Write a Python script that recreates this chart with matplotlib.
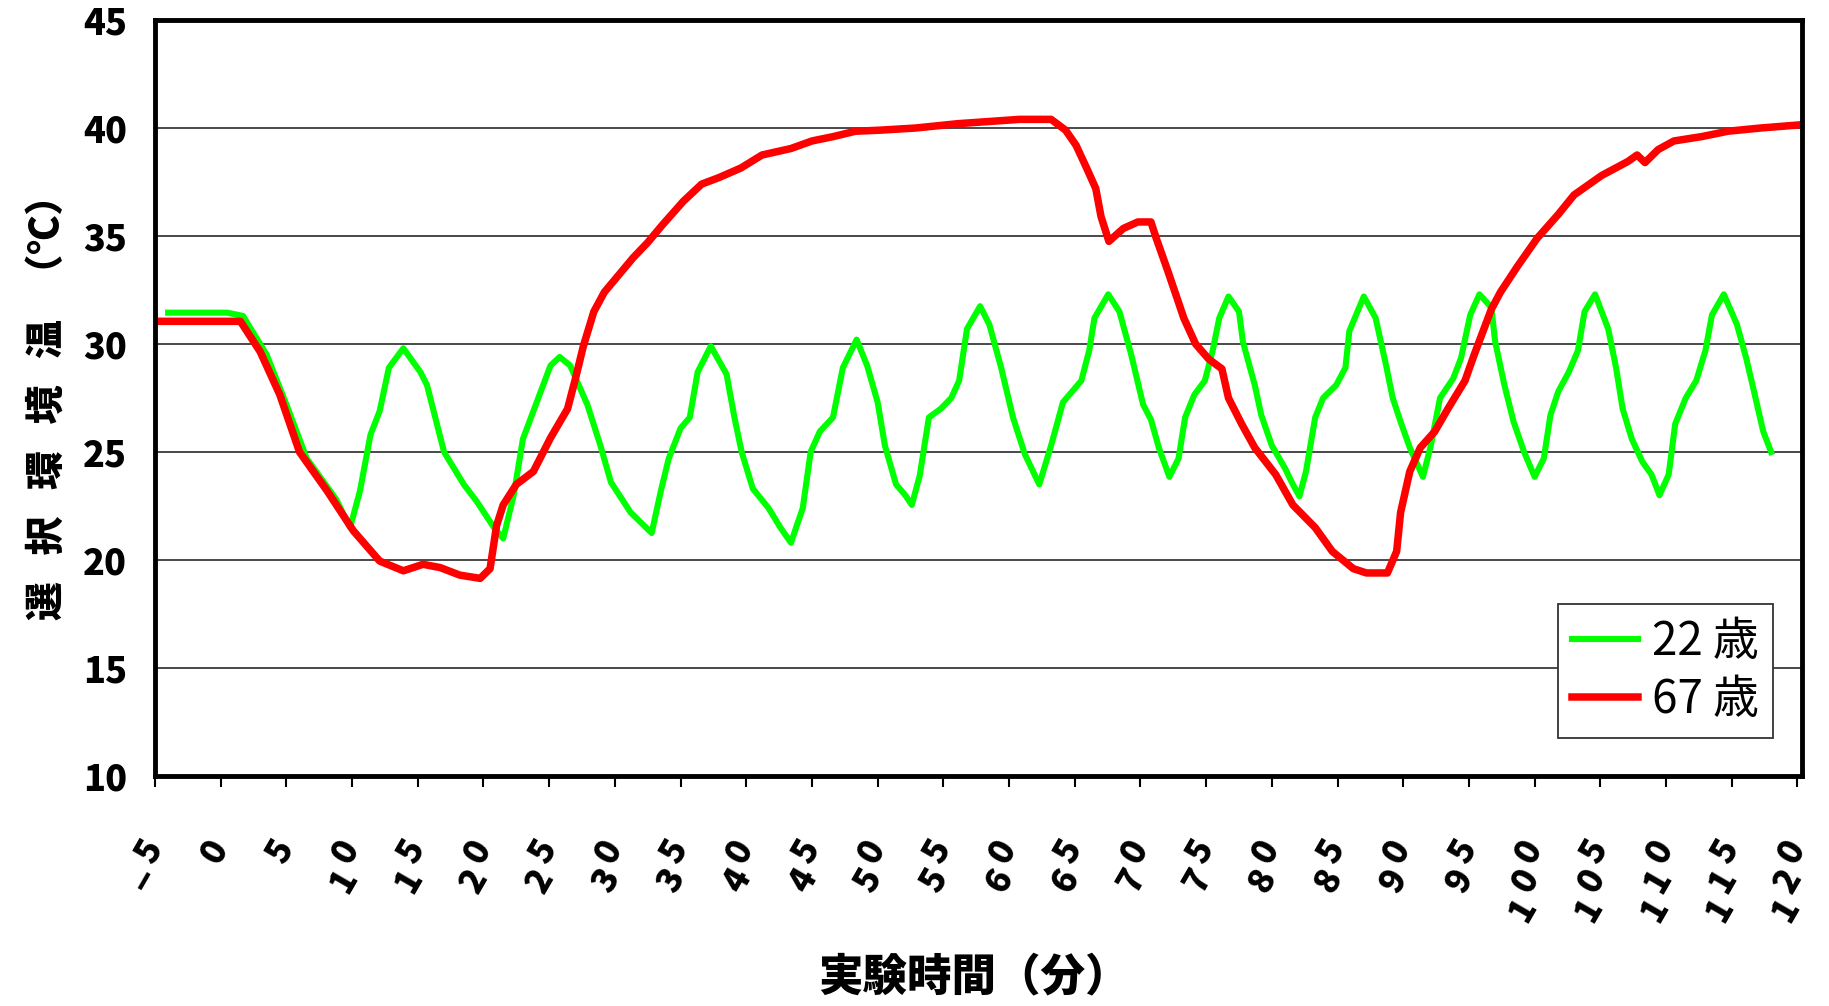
import matplotlib
matplotlib.use('Agg')
import matplotlib.pyplot as plt
from matplotlib.transforms import blended_transform_factory, offset_copy

plt.rcParams['font.family'] = ['Noto Sans CJK JP', 'DejaVu Sans']

# 22歳 (緑)
t22 = [-4.0, 0.5, 1.7, 3.5, 5.0, 6.55, 8.8, 9.85, 10.6, 11.4, 12.1, 12.8, 13.9,
       15.2, 15.7, 17.0, 18.5, 19.5, 20.8, 21.5, 22.3, 23.0, 23.8, 25.1, 25.8,
       26.6, 27.9, 28.9, 29.7, 31.2, 32.8, 33.5, 34.1, 35.0, 35.7, 36.3, 37.3,
       38.5, 39.1, 39.65, 40.5, 41.7, 42.6, 43.4, 44.3, 44.9, 45.6, 46.6, 47.35,
       48.4, 49.2, 50.0, 50.55, 51.4, 52.1, 52.6, 53.2, 53.9, 54.8, 55.6, 56.2,
       56.8, 57.8, 58.5, 59.4, 60.3, 61.2, 62.3, 63.2, 64.1, 65.5, 66.1, 66.5,
       67.55, 68.4, 69.3, 70.2, 70.8, 71.4, 72.2, 72.9, 73.4, 74.1, 74.9, 75.5,
       76.0, 76.7, 77.5, 77.8, 78.7, 79.2, 80.0, 81.0, 81.6, 82.1, 82.6, 83.3,
       83.9, 84.9, 85.6, 85.9, 87.0, 87.9, 88.7, 89.2, 89.8, 90.5, 91.5, 92.1,
       92.8, 93.8, 94.4, 95.1, 95.8, 96.7, 97.0, 97.7, 98.4, 99.2, 100.0, 100.7,
       101.2, 101.8, 102.6, 103.3, 103.8, 104.6, 105.6, 106.2, 106.7, 107.4,
       108.2, 108.9, 109.5, 110.2, 110.7, 111.5, 112.3, 113.0, 113.5, 114.4,
       115.4, 116.1, 116.7, 117.4, 118.0]
y22 = [31.45, 31.45, 31.3, 29.5, 27.2, 24.7, 22.8, 21.5, 23.2, 25.8, 26.9, 28.9, 29.8,
       28.7, 28.1, 25.0, 23.5, 22.7, 21.5, 21.0, 23.0, 25.6, 26.9, 29.0, 29.4,
       29.0, 27.2, 25.3, 23.6, 22.2, 21.25, 23.2, 24.7, 26.1, 26.6, 28.7, 29.9,
       28.6, 26.6, 25.0, 23.3, 22.4, 21.5, 20.8, 22.4, 25.0, 25.95, 26.6, 28.9,
       30.2, 29.0, 27.3, 25.3, 23.5, 23.0, 22.55, 23.9, 26.6, 27.0, 27.5, 28.3,
       30.7, 31.75, 30.9, 28.9, 26.6, 24.9, 23.5, 25.3, 27.3, 28.3, 29.7, 31.2,
       32.3, 31.5, 29.5, 27.2, 26.5, 25.2, 23.85, 24.7, 26.6, 27.65, 28.3, 29.7,
       31.2, 32.2, 31.5, 30.1, 28.1, 26.7, 25.3, 24.25, 23.5, 22.95, 24.1, 26.6,
       27.5, 28.1, 28.9, 30.6, 32.2, 31.2, 29.0, 27.5, 26.4, 25.2, 23.85, 25.3,
       27.5, 28.4, 29.35, 31.35, 32.3, 31.7, 30.1, 28.1, 26.4, 25.0, 23.85, 24.7,
       26.7, 27.8, 28.7, 29.7, 31.5, 32.3, 30.7, 28.9, 27.0, 25.6,
       24.55, 23.95, 23.0, 23.95, 26.3, 27.5, 28.3, 29.7, 31.35, 32.3,
       30.9, 29.35, 27.8, 25.95, 25.0]

# 67歳 (赤)
t67 = [-5.0, 1.5, 3.0, 4.5, 6.0, 8.1, 10.1, 12.1, 13.9, 15.4, 16.7, 18.2, 19.75,
       20.5, 21.0, 21.5, 22.5, 23.8, 25.1, 26.4, 27.0, 27.6, 28.4, 29.2, 30.3,
       31.4, 32.5, 33.6, 35.2, 36.6, 37.9, 39.6, 41.2, 43.4, 45.0, 46.6, 48.3,
       50.2, 52.9, 56.1, 60.8, 63.2, 64.3, 65.1, 65.9, 66.6, 67.0, 67.6, 68.7,
       69.8, 70.8, 71.2, 72.1, 72.8, 73.3, 74.2, 75.2, 76.2, 76.7, 77.7, 78.7,
       80.3, 81.6, 83.3, 84.6, 86.2, 87.2, 88.8, 89.5, 89.8, 90.5, 91.3, 92.4,
       93.4, 94.7, 95.4, 96.7, 97.4, 98.7, 100.2, 101.8, 103.0, 105.1, 107.1,
       107.8, 108.4, 109.4, 110.6, 112.7, 114.7, 117.2, 120.3]
y67 = [31.05, 31.05, 29.65, 27.65, 25.0, 23.2, 21.35, 19.95, 19.5, 19.8, 19.65, 19.3, 19.15,
       19.6, 21.6, 22.55, 23.5, 24.1, 25.65, 27.0, 28.4, 29.9, 31.5, 32.4, 33.2,
       34.0, 34.7, 35.5, 36.6, 37.4, 37.7, 38.15, 38.75, 39.05, 39.4, 39.6, 39.85,
       39.9, 40.0, 40.2, 40.4, 40.4, 39.9, 39.2, 38.15, 37.2, 35.9, 34.75, 35.35,
       35.65, 35.65, 34.9, 33.35, 32.1, 31.2, 30.0, 29.3, 28.85, 27.5, 26.3, 25.2,
       23.95, 22.55, 21.5, 20.4, 19.6, 19.4, 19.4, 20.4, 22.2, 24.1, 25.2, 25.95,
       27.0, 28.3, 29.5, 31.6, 32.4, 33.6, 34.9, 36.0, 36.9, 37.8, 38.45,
       38.75, 38.4, 39.0, 39.4, 39.6, 39.85, 40.0, 40.15]

xticks = list(range(-5, 121, 5))
yticks = [10, 15, 20, 25, 30, 35, 40, 45]

fig = plt.figure(figsize=(18.29, 10.06), dpi=100)
ax = fig.add_subplot(111)
fig.subplots_adjust(left=155/1829, right=1802/1829, top=1-20/1006, bottom=1-776/1006)

ax.plot(t22, y22, color='#00ff00', lw=4.4, label='22 歳', solid_joinstyle='round')
ax.plot(t67, y67, color='#ff0000', lw=5.4, label='67 歳', solid_joinstyle='round')

ax.set_xlim(-5, 120.35)
ax.set_ylim(10, 45)
ax.set_yticks(yticks)
ax.set_xticks(xticks)
ax.set_xticklabels([])
ax.yaxis.grid(True, color='#3a3a3a', lw=1.3)
ax.set_axisbelow(True)

for s in ax.spines.values():
    s.set_linewidth(3.5)
    s.set_color('black')

ax.tick_params(axis='y', length=0, pad=20, labelsize=26)
ax.tick_params(axis='x', direction='out', length=8, width=1.5)
for lab in ax.get_yticklabels():
    lab.set_fontweight('heavy')

# 目盛りラベル: 1文字ずつ縦に積んで斜めに回す
base = blended_transform_factory(ax.transData, ax.transAxes)
for v in xticks:
    for i, ch in enumerate(reversed(str(v).replace('-', '−'))):
        tr = offset_copy(base, fig=fig, x=-6 - 3*i, y=-(76 + 29*i), units='dots')
        ax.text(v, 0, ch, transform=tr, rotation=60, rotation_mode='anchor',
                ha='center', va='center', fontsize=25, fontweight='heavy', clip_on=False)

ax.text(0.497, -0.266, '実験時間（分）', transform=ax.transAxes, ha='center', va='center',
        fontsize=32, fontweight='heavy')
ax.text(-0.0656, 0.5, '選   択   環   境   温   （℃）', transform=ax.transAxes, rotation=90,
        ha='center', va='center', fontsize=28, fontweight='heavy')

leg = ax.legend(loc='upper left', bbox_to_anchor=(0.852, 0.2275), borderaxespad=0,
                fontsize=33, handlelength=1.45, handletextpad=0.3, labelspacing=0.2,
                borderpad=0.3, fancybox=False, framealpha=1, edgecolor='#333333')
leg.get_frame().set_linewidth(1.3)

plt.savefig('out.png', dpi=100)
